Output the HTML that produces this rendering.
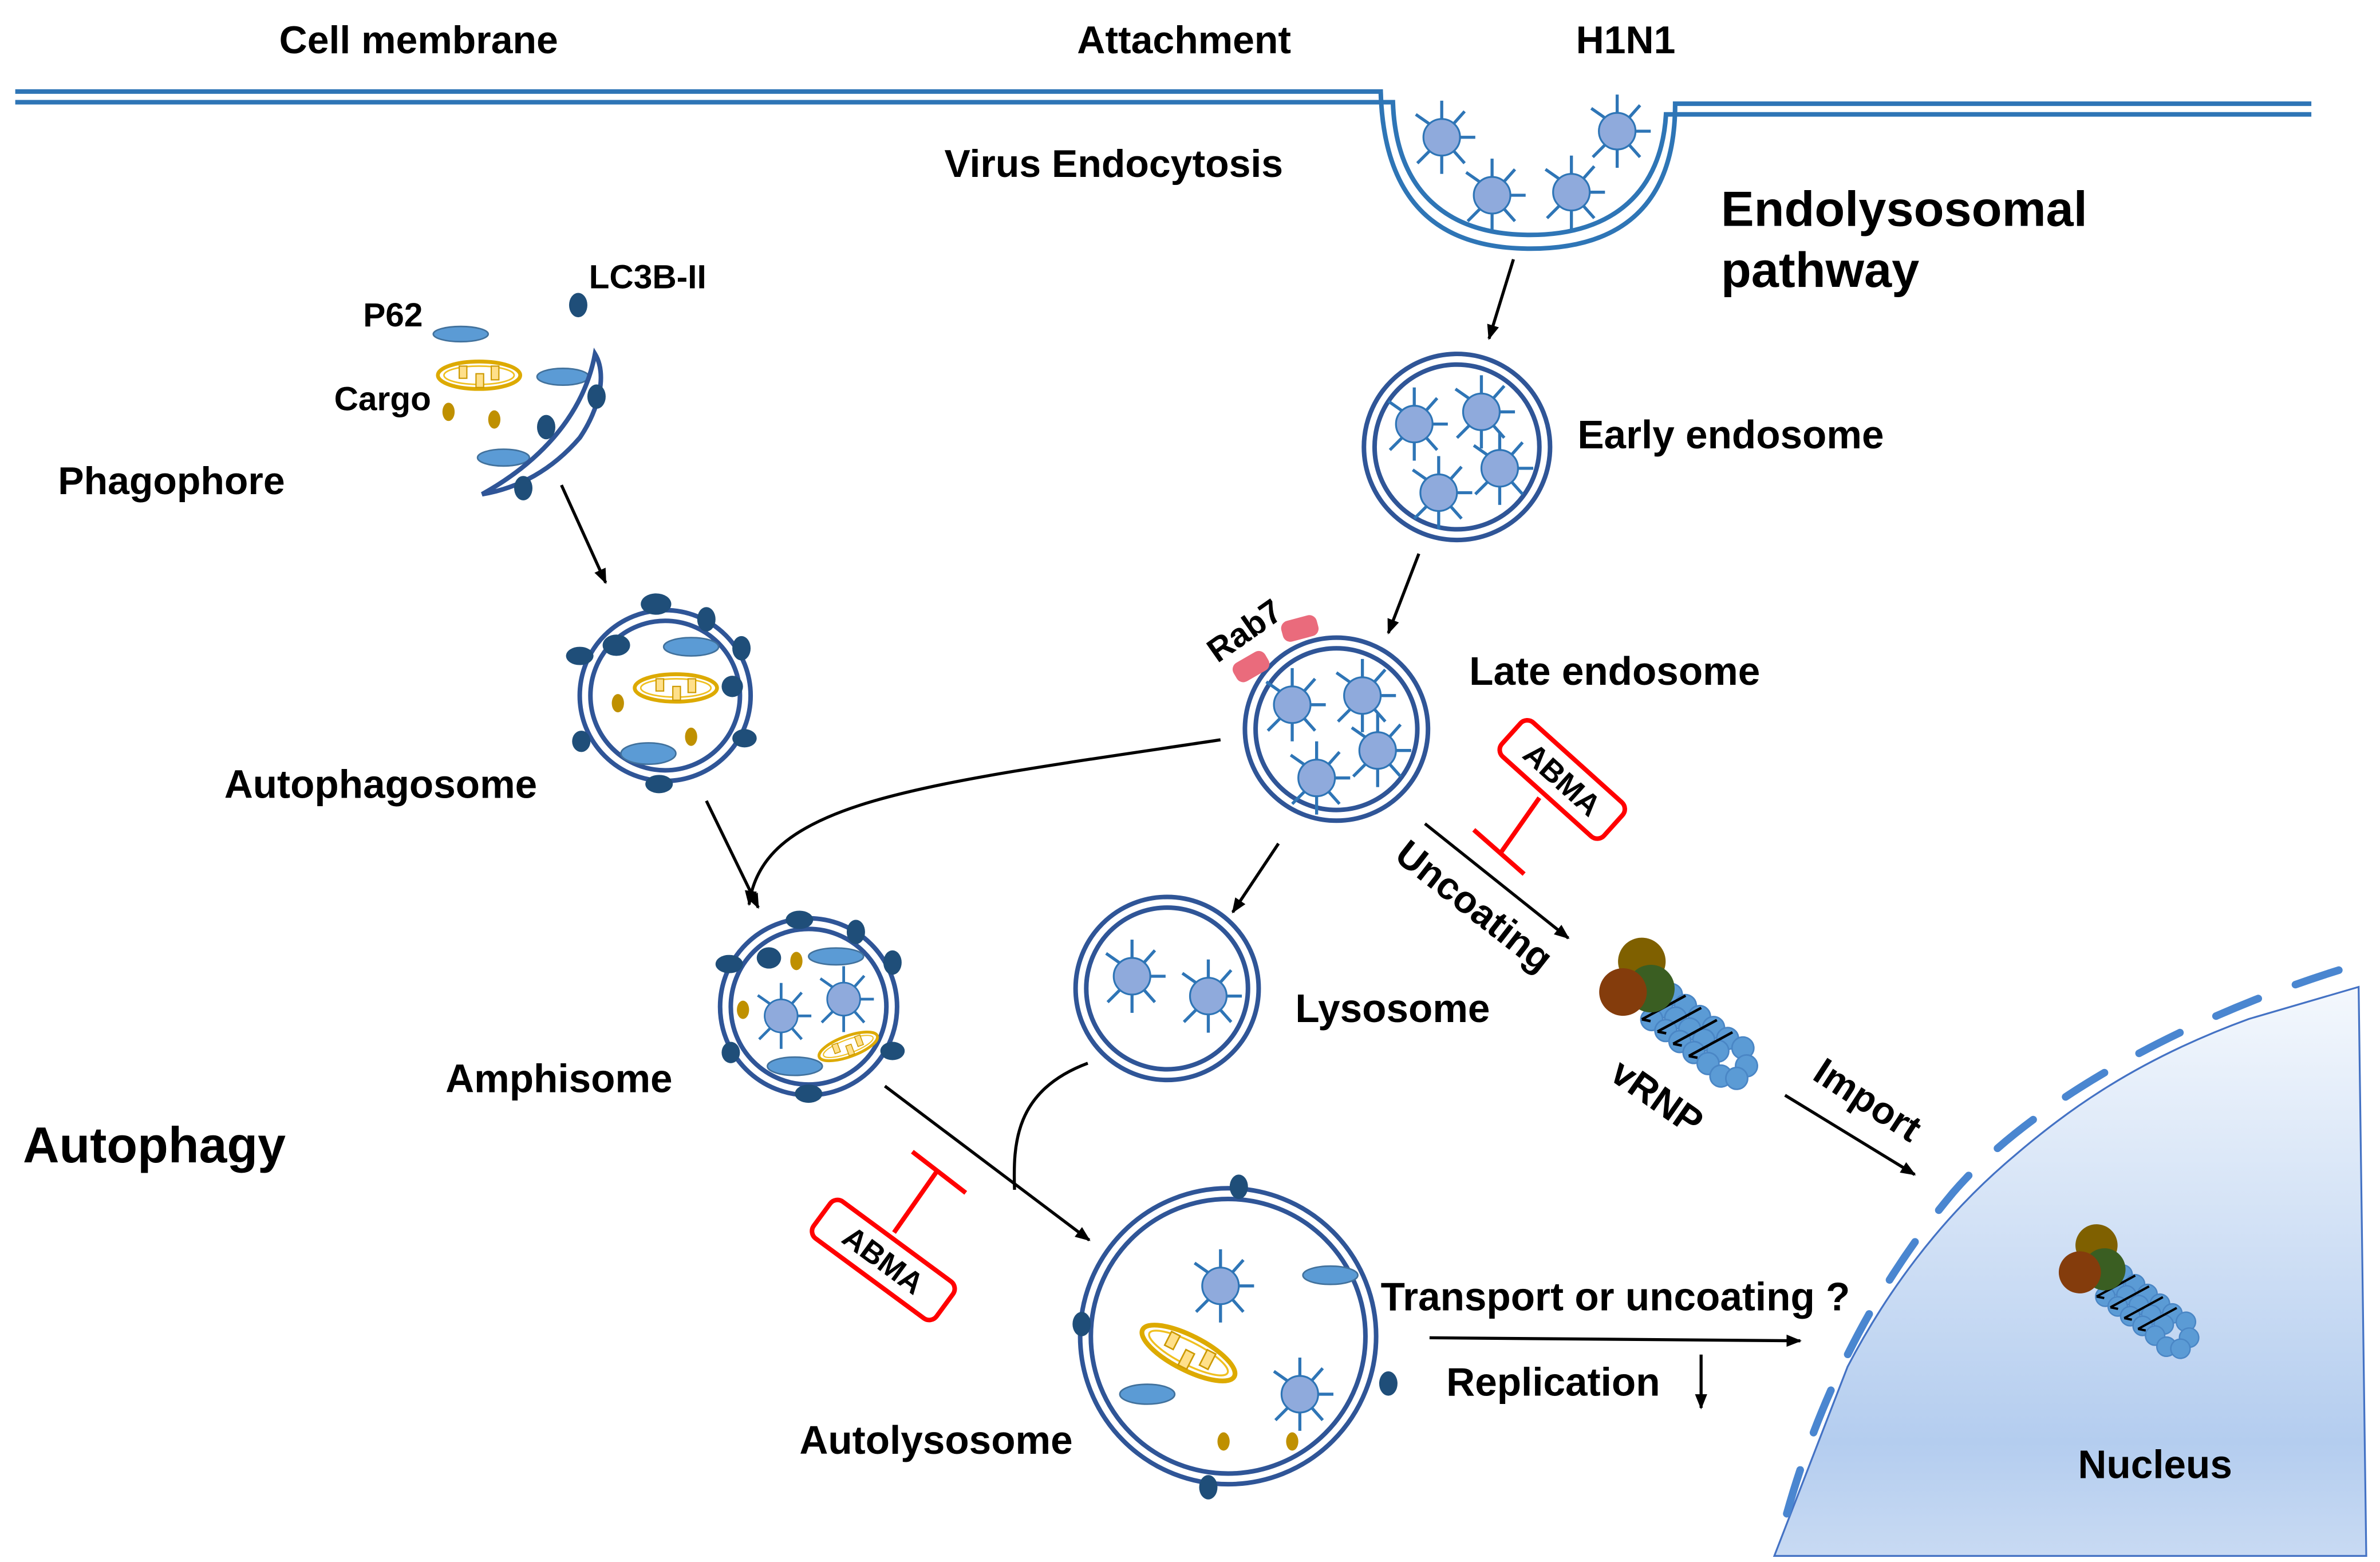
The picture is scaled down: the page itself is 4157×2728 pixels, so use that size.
<!DOCTYPE html>
<html><head><meta charset="utf-8"><style>
html,body{margin:0;padding:0;background:#fff;}
svg{display:block;}
text{font-family:"Liberation Sans",Arial,sans-serif;font-weight:bold;fill:#000;}
</style></head><body>
<svg width="4157" height="2728" viewBox="0 0 1560 1024" preserveAspectRatio="none" xmlns="http://www.w3.org/2000/svg">
<defs>
<marker id="ar" viewBox="0 0 10 10" refX="9" refY="5" markerWidth="5" markerHeight="5" orient="auto"><path d="M0,1 L10,5 L0,9 Z" fill="#000"/></marker>
<g id="v">
 <g stroke="#2e75b6" stroke-width="2">
  <line x1="0" y1="-11" x2="0" y2="-24"/><line x1="0" y1="11" x2="0" y2="24"/>
  <line x1="11" y1="0" x2="22" y2="0"/>
  <line x1="7" y1="-8" x2="15" y2="-17"/><line x1="-7" y1="-8" x2="-17" y2="-15"/>
  <line x1="-7" y1="8" x2="-16" y2="17"/><line x1="7" y1="8" x2="15" y2="17"/>
 </g>
 <circle r="12" fill="#8faadc" stroke="#2e75b6" stroke-width="1.2"/>
</g>
<g id="mito">
 <ellipse rx="27" ry="9" fill="none" stroke="#ddaa00" stroke-width="2.5"/>
 <ellipse rx="23" ry="6" fill="none" stroke="#f0c020" stroke-width="1"/>
 <rect x="-13" y="-6" width="5" height="8" fill="#ffe08a" stroke="#cc9900" stroke-width="0.8"/>
 <rect x="-2" y="-1" width="5" height="9" fill="#ffe08a" stroke="#cc9900" stroke-width="0.8"/>
 <rect x="8" y="-6" width="5" height="9" fill="#ffe08a" stroke="#cc9900" stroke-width="0.8"/>
</g>
<g id="rnp">
 <g fill="#5b9bd5" stroke="#4a86c5" stroke-width="0.8">
  <circle cx="4" cy="-8" r="5.5"/><circle cx="4" cy="0" r="5.5"/><circle cx="4" cy="8" r="5.5"/>
  <circle cx="13" cy="-8" r="5.5"/><circle cx="13" cy="0" r="5.5"/><circle cx="13" cy="8" r="5.5"/>
  <circle cx="22" cy="-8" r="5.5"/><circle cx="22" cy="0" r="5.5"/><circle cx="22" cy="8" r="5.5"/>
  <circle cx="31" cy="-8" r="5.5"/><circle cx="31" cy="0" r="5.5"/><circle cx="31" cy="8" r="5.5"/>
  <circle cx="40" cy="-8" r="5.5"/><circle cx="40" cy="0" r="5.5"/><circle cx="40" cy="8" r="5.5"/>
  <circle cx="49" cy="-9" r="5.5"/><circle cx="49" cy="9" r="5.5"/><circle cx="56" cy="-3" r="5.5"/><circle cx="56" cy="5" r="5.5"/>
 </g>
 <g fill="none" stroke="#000" stroke-width="1.3">
  <path d="M0,11 L10,-12 M10,11 L20,-12 M20,11 L30,-12 M30,11 L40,-12 M0,11 L4,9 M10,11 L14,9 M20,11 L24,9 M30,11 L34,9"/>
 </g>
 <circle cx="-18" cy="-12" r="12" fill="#7f6000"/>
 <circle cx="-6" cy="-4" r="12" fill="#3a5e22"/>
 <circle cx="-16" cy="6" r="12" fill="#843c0c"/>
</g>
<linearGradient id="ng" x1="0" y1="0" x2="0" y2="1"><stop offset="0" stop-color="#f4f8fd"/><stop offset="0.8" stop-color="#b4cdef"/><stop offset="1" stop-color="#c8daf3"/></linearGradient>
</defs>

<!-- cell membrane -->
<g fill="none" stroke="#2e75b6" stroke-width="3">
<path d="M10,60 H905 C907,135 945,163 1003,163 C1062,163 1098,135 1098,68 H1515"/>
<path d="M10,67 H913 C915,125 948,154 1003,154 C1058,154 1089,125 1092,75 H1515"/>
</g>
<use href="#v" x="945" y="90"/><use href="#v" x="1060" y="86"/>
<use href="#v" x="978" y="128"/><use href="#v" x="1030" y="126"/>

<text x="183" y="35" font-size="25.5">Cell membrane</text>
<text x="706" y="35" font-size="25.5">Attachment</text>
<text x="1033" y="35" font-size="25.5">H1N1</text>
<text x="619" y="116" font-size="25.5">Virus Endocytosis</text>
<text x="1128" y="148" font-size="32.5">Endolysosomal</text>
<text x="1128" y="188" font-size="32.5">pathway</text>
<text x="15" y="762" font-size="33">Autophagy</text>

<!-- arrows -->
<g stroke="#000" stroke-width="2" fill="none" marker-end="url(#ar)">
<line x1="992" y1="170" x2="976" y2="222"/>
<line x1="930" y1="363" x2="910" y2="415"/>
<line x1="368" y1="318" x2="397" y2="382"/>
<line x1="463" y1="525" x2="497" y2="595"/>
<path d="M800,485 C600,515 500,525 491,593"/>
<line x1="838" y1="553" x2="808" y2="598"/>
<line x1="580" y1="712" x2="714" y2="813"/>
<line x1="934" y1="540" x2="1028" y2="615"/>
<line x1="1170" y1="718" x2="1255" y2="770"/>
<line x1="937" y1="877" x2="1180" y2="879"/>
<line x1="1115" y1="888" x2="1115" y2="923"/>
</g>
<path d="M713,697 C665,715 664,750 665,780" stroke="#000" stroke-width="2" fill="none"/>

<!-- early endosome -->
<circle cx="955" cy="293" r="61" fill="#fff" stroke="#2f5597" stroke-width="3"/>
<circle cx="955" cy="293" r="54" fill="none" stroke="#2f5597" stroke-width="3"/>
<use href="#v" x="927" y="278"/><use href="#v" x="971" y="270"/><use href="#v" x="983" y="307"/><use href="#v" x="943" y="323"/>
<text x="1034" y="294" font-size="26">Early endosome</text>

<!-- late endosome -->
<circle cx="876" cy="478" r="60" fill="#fff" stroke="#2f5597" stroke-width="3"/>
<circle cx="876" cy="478" r="53" fill="none" stroke="#2f5597" stroke-width="3"/>
<use href="#v" x="847" y="462"/><use href="#v" x="893" y="456"/><use href="#v" x="903" y="492"/><use href="#v" x="863" y="510"/>
<rect x="-12" y="-7" width="24" height="14" rx="5" fill="#ea6b7c" transform="translate(820,437) rotate(-30)"/>
<rect x="-12" y="-7" width="24" height="14" rx="5" fill="#ea6b7c" transform="translate(852,412) rotate(-15)"/>
<text font-size="22" transform="translate(798,435) rotate(-35)">Rab7</text>
<text x="963" y="449" font-size="26">Late endosome</text>

<!-- ABMA 1 -->
<g transform="translate(1024,511) rotate(42)">
<rect x="-45" y="-15" width="90" height="30" rx="6" fill="#fff" stroke="#f00" stroke-width="3"/>
<text x="0" y="7" font-size="20" text-anchor="middle">ABMA</text>
</g>
<g stroke="#f00" stroke-width="3"><line x1="1009" y1="523" x2="983" y2="560"/><line x1="966" y1="544" x2="999" y2="573"/></g>
<text font-size="25" transform="translate(913,563) rotate(38)">Uncoating</text>

<!-- vRNP -->
<g transform="translate(1085,657) rotate(38) scale(1.3)"><use href="#rnp"/></g>
<text font-size="25" transform="translate(1054,707) rotate(35)">vRNP</text>
<text font-size="25" transform="translate(1187,707) rotate(33)">Import</text>

<!-- lysosome -->
<circle cx="765" cy="648" r="60" fill="#fff" stroke="#2f5597" stroke-width="3"/>
<circle cx="765" cy="648" r="53" fill="none" stroke="#2f5597" stroke-width="3"/>
<use href="#v" x="742" y="640"/><use href="#v" x="792" y="653"/>
<text x="849" y="670" font-size="26">Lysosome</text>

<!-- phagophore -->
<ellipse cx="379" cy="200" rx="6" ry="8" fill="#1f4e79"/>
<ellipse cx="302" cy="219" rx="18" ry="5" fill="#5b9bd5" stroke="#41719c"/>
<use href="#mito" transform="translate(314,246) scale(1)"/>
<ellipse cx="369" cy="247" rx="17" ry="5.5" fill="#5b9bd5" stroke="#41719c"/>
<ellipse cx="330" cy="300" rx="17" ry="5.5" fill="#5b9bd5" stroke="#41719c"/>
<ellipse cx="294" cy="270" rx="4" ry="6" fill="#bf9000"/><ellipse cx="324" cy="275" rx="4" ry="6" fill="#bf9000"/>
<path d="M316,324 C350,305 382,275 390,232 C398,245 393,268 380,287 C362,308 340,320 316,324 Z" fill="#fff" stroke="#2f5597" stroke-width="3"/>
<ellipse cx="391" cy="260" rx="6" ry="8" fill="#1f4e79"/>
<ellipse cx="358" cy="280" rx="6" ry="8" fill="#1f4e79"/>
<ellipse cx="343" cy="320" rx="6" ry="8" fill="#1f4e79"/>
<text x="386" y="189" font-size="22">LC3B-II</text>
<text x="238" y="214" font-size="22">P62</text>
<text x="219" y="269" font-size="22">Cargo</text>
<text x="38" y="324" font-size="25.5">Phagophore</text>

<!-- autophagosome -->
<circle cx="436" cy="456" r="56" fill="#fff" stroke="#2f5597" stroke-width="3"/>
<circle cx="436" cy="456" r="49" fill="none" stroke="#2f5597" stroke-width="3"/>
<ellipse cx="453" cy="424" rx="18" ry="6" fill="#5b9bd5" stroke="#41719c"/>
<ellipse cx="425" cy="494" rx="18" ry="7" fill="#5b9bd5" stroke="#41719c"/>
<use href="#mito" transform="translate(443,451)"/>
<ellipse cx="405" cy="461" rx="4" ry="6" fill="#bf9000"/><ellipse cx="453" cy="483" rx="4" ry="6" fill="#bf9000"/>
<g fill="#1f4e79">
<ellipse cx="430" cy="396" rx="10" ry="7"/><ellipse cx="463" cy="406" rx="6" ry="8"/><ellipse cx="486" cy="425" rx="6" ry="8"/>
<ellipse cx="380" cy="430" rx="9" ry="6"/><ellipse cx="404" cy="423" rx="9" ry="7"/><ellipse cx="480" cy="450" rx="7" ry="7"/>
<ellipse cx="381" cy="486" rx="6" ry="7"/><ellipse cx="488" cy="484" rx="8" ry="6"/><ellipse cx="432" cy="514" rx="9" ry="6"/>
</g>
<text x="147" y="523" font-size="26">Autophagosome</text>

<!-- amphisome -->
<circle cx="530" cy="660" r="58" fill="#fff" stroke="#2f5597" stroke-width="3"/>
<circle cx="530" cy="660" r="51" fill="none" stroke="#2f5597" stroke-width="3"/>
<ellipse cx="548" cy="627" rx="18" ry="5.5" fill="#5b9bd5" stroke="#41719c"/>
<ellipse cx="521" cy="699" rx="18" ry="6" fill="#5b9bd5" stroke="#41719c"/>
<use href="#v" transform="translate(512,666) scale(0.9)"/><use href="#v" transform="translate(553,655) scale(0.9)"/>
<use href="#mito" transform="translate(556,686) rotate(-20) scale(0.75)"/>
<ellipse cx="522" cy="630" rx="4" ry="6" fill="#bf9000"/><ellipse cx="487" cy="662" rx="4" ry="6" fill="#bf9000"/>
<g fill="#1f4e79">
<ellipse cx="524" cy="603" rx="9" ry="6"/><ellipse cx="561" cy="611" rx="6" ry="8"/><ellipse cx="585" cy="631" rx="6" ry="8"/>
<ellipse cx="478" cy="632" rx="9" ry="6"/><ellipse cx="504" cy="628" rx="8" ry="7"/><ellipse cx="585" cy="689" rx="8" ry="6"/>
<ellipse cx="479" cy="690" rx="6" ry="7"/><ellipse cx="530" cy="717" rx="9" ry="6"/>
</g>
<text x="292" y="716" font-size="26">Amphisome</text>

<!-- ABMA 2 -->
<g transform="translate(579,826) rotate(36.4)">
<rect x="-50" y="-15" width="100" height="30" rx="6" fill="#fff" stroke="#f00" stroke-width="3"/>
<text x="0" y="7" font-size="20" text-anchor="middle">ABMA</text>
</g>
<g stroke="#f00" stroke-width="3"><line x1="586" y1="808" x2="614" y2="768"/><line x1="598" y1="755" x2="633" y2="782"/></g>

<!-- autolysosome -->
<circle cx="805" cy="876" r="97" fill="#fff" stroke="#2f5597" stroke-width="3"/>
<circle cx="805" cy="876" r="90" fill="none" stroke="#2f5597" stroke-width="3"/>
<use href="#v" x="800" y="843"/><use href="#v" x="852" y="914"/>
<ellipse cx="872" cy="836" rx="18" ry="6" fill="#5b9bd5" stroke="#41719c"/>
<ellipse cx="752" cy="914" rx="18" ry="6.5" fill="#5b9bd5" stroke="#41719c"/>
<use href="#mito" transform="translate(779,887) rotate(27) scale(1.25)"/>
<ellipse cx="802" cy="945" rx="4" ry="6" fill="#bf9000"/><ellipse cx="847" cy="945" rx="4" ry="6" fill="#bf9000"/>
<g fill="#1f4e79">
<ellipse cx="812" cy="778" rx="6" ry="8"/><ellipse cx="709" cy="868" rx="6" ry="8"/><ellipse cx="910" cy="907" rx="6" ry="8"/><ellipse cx="792" cy="975" rx="6" ry="8"/>
</g>
<text x="524" y="953" font-size="26">Autolysosome</text>
<text x="905" y="859" font-size="26">Transport or uncoating ?</text>
<text x="948" y="915" font-size="26">Replication</text>

<!-- nucleus -->
<path d="M1546,647 L1474,668 C1400,695 1355,728 1320,758 C1270,800 1235,850 1211,896 L1163,1020 L1551,1020 Z" fill="url(#ng)" stroke="#4472c4" stroke-width="1.2"/>
<path d="M1533,636 C1440,665 1335,718 1280,782 C1225,848 1188,925 1167,1008" fill="none" stroke="#4a86d0" stroke-width="5" stroke-linecap="round" stroke-dasharray="30 26"/>
<g transform="translate(1382,840) rotate(38) scale(1.15)"><use href="#rnp"/></g>
<text x="1362" y="969" font-size="26">Nucleus</text>
</svg>
</body></html>
